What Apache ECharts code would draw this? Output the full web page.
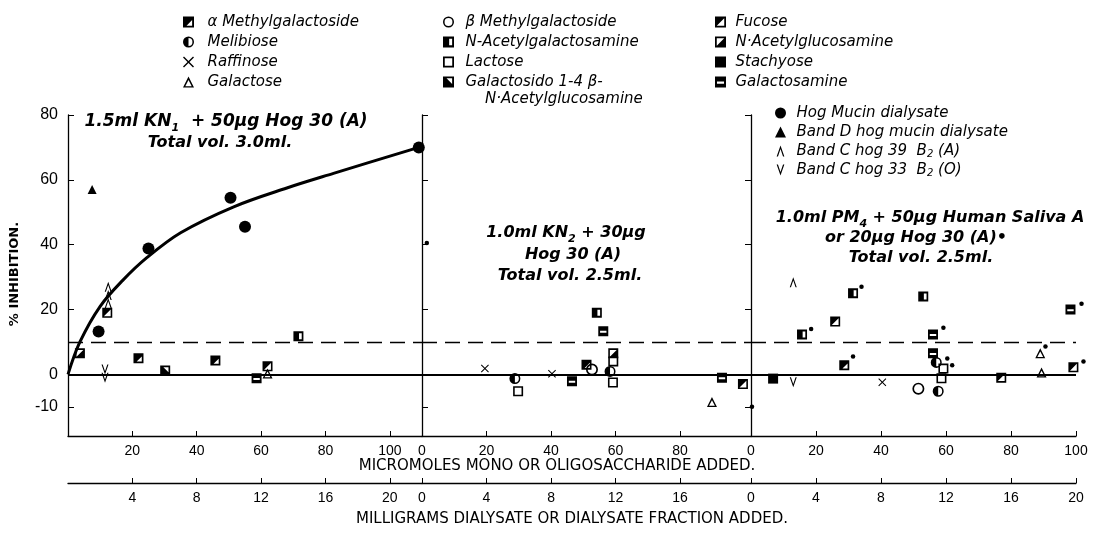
<!DOCTYPE html>
<html><head><meta charset="utf-8">
<script src="https://cdn.jsdelivr.net/npm/echarts@6/dist/echarts.min.js"></script>
<style>html,body{margin:0;padding:0;background:#fff}#c{width:1110px;height:534px}</style>
</head><body><div id="c"></div>
<script>
// ---------------- data ----------------
// compound points: [panel, micromoles added, % inhibition]
const alphaMethylgalactoside = [[1,21.9,5],[1,45.8,4.3],[2,51,3],[3,28.7,2.8]];
const melibiose = [[2,28.8,-1.3],[2,58.3,0.9],[3,57,3.7],[3,57.6,-5.2]];
const raffinose = [[2,19.5,1.8],[2,40.3,0.2],[3,40.4,-2.4]];
const galactose = [[1,62,0.3],[2,89.9,-8.5],[3,89,6.5],[3,89.4,0.6]];
const betaMethylgalactoside = [[2,52.7,1.5],[3,51.5,-4.4]];
const nAcetylgalactosamine = [[1,71.6,11.8],[2,54.2,19],[3,15.7,12.3],[3,31.4,25],[3,53,24]];
const lactose = [[2,29.8,-5.2],[2,59.3,4],[2,59.2,-2.5],[3,59.2,1.8],[3,58.6,-1.2]];
const galactosidoAcGlc = [[1,30.2,1.2]];
const fucose = [[1,12.2,19],[1,62,2.5],[2,99.5,-3],[3,25.9,16.3],[3,77,-1],[3,99.2,2.2]];
const nAcetylglucosamine = [[1,3.7,6.5],[2,59.3,6.5]];
const stachyose = [[3,6.8,-1.3]];
const galactosamine = [[1,58.6,-1.2],[2,46.5,-2.1],[2,56.2,13.3],[2,93,-1],[3,56,12.3],[3,56,6.5],[3,98.3,20]];
// points tested with Hog 30 (A) (small dots): [panel, micromoles, % inhibition]
const hog30Dots = [[2,1.5,40.5],[3,0.3,-10],[3,18.5,14],[3,34,27],[3,31.4,5.5],[3,59.2,14.4],[3,60.4,4.9],[3,61.9,2.8],[3,90.6,8.6],[3,101.7,21.8],[3,102.3,4]];
// dialysate points: [panel, milligrams added, % inhibition]
const hogMucinDialysate = [[1,1.9,13.2],[1,5,38.8],[1,10.1,54.5],[1,11,45.5],[1,21.8,70]];
const bandDHogMucin = [[1,1.5,57]];
const bandCHog39 = [[1,2.5,27],[1,2.5,24.5],[1,2.5,22],[3,2.6,28.4]];
const bandCHog33 = [[1,2.3,1.5],[1,2.3,-1],[3,2.6,-2.4]];
// fitted curve for hog mucin dialysate: [milligrams, % inhibition]
const hogMucinCurve = [[0,0],[0.74,10],[2,21],[3.4,29],[4.9,36],[7,43.7],[10.3,51.7],[13.6,57.5],[16.5,62],[21.8,70]];
const zeroLevel = 0, cutoffLevel = 10;
const yTicks = [-10,0,20,40,60,80];
const microTicks = [[20,40,60,80,100],[0,20,40,60,80],[0,20,40,60,80,100]];
const mgTicks = [[4,8,12,16,20],[0,4,8,12,16],[0,4,8,12,16,20]];
const microMax = [110,102,100];
const mgMax = [22,20.4,20];

// ---------------- symbols ----------------
const SQ = 'M0 0H10V10H0Z ';
const HOLE = 'M1.6 1.6V8.4H8.4V1.6Z ';
const CIRC = 'M0 5A5 5 0 1 1 10 5A5 5 0 1 1 0 5Z M1.4 5A3.6 3.6 0 1 0 8.6 5A3.6 3.6 0 1 0 1.4 5Z ';
const P = {
  sqOpen: 'path://' + SQ + HOLE,
  sqFilled: 'path://' + SQ,
  aMG: 'path://' + SQ + 'M8.3 3.2L3.2 8.3H8.3Z',
  galactosido: 'path://' + SQ + 'M3.2 1.7L8.3 6.8V1.7Z',
  fucose: 'path://' + SQ + HOLE + 'M1.6 1.6H8.4L1.6 8.4Z',
  nAcGlc: 'path://' + SQ + HOLE + 'M8.4 1.6V8.4H1.6Z',
  nAcGal: 'path://' + SQ + 'M5.6 2V8H8.3V2Z',
  galactosamine: 'path://' + SQ + 'M1.8 4.6V6.6H8.2V4.6Z',
  circleOpen: 'path://' + CIRC,
  melibiose: 'path://' + CIRC + 'M5 1.4A3.6 3.6 0 0 0 5 8.6Z',
  triOpen: 'path://M5 0L10 10H0Z M5 3.2L2.1 8.8H7.9Z',
  triFilled: 'path://M5 0L10 10H0Z',
  cross: 'path://M0 0.9L0.9 0L5 4.1L9.1 0L10 0.9L5.9 5L10 9.1L9.1 10L5 5.9L0.9 10L0 9.1L4.1 5Z',
  caretUp: 'path://M0 10L3.5 0L7 10H5.8L3.5 3.2L1.2 10Z',
  caretDown: 'path://M0 0L3.5 10L7 0H5.8L3.5 6.8L1.2 0Z'
};

const groups = [
  {name:'α Methylgalactoside', pts:alphaMethylgalactoside, sym:P.aMG, size:10, mg:false},
  {name:'Melibiose', pts:melibiose, sym:P.melibiose, size:11, mg:false},
  {name:'Raffinose', pts:raffinose, sym:P.cross, size:8, mg:false},
  {name:'Galactose', pts:galactose, sym:P.triOpen, size:10, mg:false},
  {name:'β Methylgalactoside', pts:betaMethylgalactoside, sym:P.circleOpen, size:12, mg:false},
  {name:'N-Acetylgalactosamine', pts:nAcetylgalactosamine, sym:P.nAcGal, size:10, mg:false},
  {name:'Lactose', pts:lactose, sym:P.sqOpen, size:10, mg:false},
  {name:'Galactosido 1-4 β-N-Acetylglucosamine', pts:galactosidoAcGlc, sym:P.galactosido, size:10, mg:false},
  {name:'Fucose', pts:fucose, sym:P.fucose, size:10, mg:false},
  {name:'N·Acetylglucosamine', pts:nAcetylglucosamine, sym:P.nAcGlc, size:10, mg:false},
  {name:'Stachyose', pts:stachyose, sym:P.sqFilled, size:10, mg:false},
  {name:'Galactosamine', pts:galactosamine, sym:P.galactosamine, size:10, mg:false},
  {name:'Hog Mucin dialysate', pts:hogMucinDialysate, sym:'circle', size:12, mg:true},
  {name:'Band D hog mucin dialysate', pts:bandDHogMucin, sym:P.triFilled, size:9, mg:true},
  {name:'Band C hog 39 B2 (A)', pts:bandCHog39, sym:P.caretUp, size:10, mg:true},
  {name:'Band C hog 33 B2 (O)', pts:bandCHog33, sym:P.caretDown, size:10, mg:true},
  {name:'Hog 30 (A) •', pts:hog30Dots, sym:'circle', size:4.5, mg:false}
];

const grids = [
  {left:68, top:115, width:354, height:321},
  {left:422, top:115, width:329, height:321},
  {left:751, top:115, width:325, height:321}
];

const BLACK = '#000';
const numFont = {color:BLACK, fontSize:14, fontFamily:'Liberation Sans'};
const xAxes = [];
[0,1,2].forEach(i => xAxes.push({
  type:'value', gridIndex:i, min:0, max:microMax[i], position:'bottom',
  axisLine:{show:true, onZero:false, lineStyle:{color:BLACK, width:1.3}},
  axisTick:{show:true, inside:true, length:5, customValues:microTicks[i], lineStyle:{color:BLACK}},
  axisLabel:Object.assign({customValues:microTicks[i], margin:8}, numFont),
  splitLine:{show:false}
}));
[0,1,2].forEach(i => xAxes.push({
  type:'value', gridIndex:i, min:0, max:mgMax[i], position:'bottom', offset:47,
  axisLine:{show:true, onZero:false, lineStyle:{color:BLACK, width:1.3}},
  axisTick:{show:true, inside:true, length:5, customValues:mgTicks[i], lineStyle:{color:BLACK}},
  axisLabel:Object.assign({customValues:mgTicks[i], margin:8}, numFont),
  splitLine:{show:false}
}));
const yAxes = [0,1,2].map(i => ({
  type:'value', gridIndex:i, min:-19, max:80,
  axisLine:{show:true, onZero:false, lineStyle:{color:BLACK, width:1.3}},
  axisTick:{show:true, inside:i<2, length:6, customValues:yTicks, lineStyle:{color:BLACK}},
  axisLabel:{show:i===0, customValues:yTicks, color:BLACK, fontSize:16, fontFamily:'Liberation Sans', margin:10},
  splitLine:{show:false}
}));

const series = [];
groups.forEach(g => {
  [1,2,3].forEach(p => {
    const d = g.pts.filter(v => v[0] === p).map(v => [v[1], v[2]]);
    if (!d.length) return;
    series.push({
      type:'scatter', name:g.name, xAxisIndex:g.mg ? 2 + p : p - 1, yAxisIndex:p - 1,
      data:d, symbol:g.sym, symbolSize:g.size, symbolKeepAspect:true, clip:false,
      itemStyle:{color:BLACK, opacity:1}, z:5
    });
  });
});
series.push({
  type:'line', name:'Hog mucin curve', xAxisIndex:3, yAxisIndex:0, data:hogMucinCurve,
  smooth:0.35, symbol:'none', lineStyle:{color:BLACK, width:3}, z:3
});
[0,1,2].forEach(i => series.push({
  type:'line', name:'ref' + i, xAxisIndex:i, yAxisIndex:i, data:[],
  markLine:{silent:true, symbol:'none', label:{show:false},
    data:[
      {yAxis:zeroLevel, lineStyle:{color:BLACK, width:1.8, type:'solid'}},
      {yAxis:cutoffLevel, lineStyle:{color:BLACK, width:1.4, type:[15,8]}}
    ]}
}));

const legendText = {fontSize:15, fontStyle:'italic', fontFamily:'DejaVu Sans', color:BLACK, lineHeight:16,
  rich:{s:{fontSize:10, fontStyle:'italic', fontFamily:'DejaVu Sans', color:BLACK, verticalAlign:'bottom', lineHeight:16}}};
function mkLegend(left, top, names, w, gap) {
  return {left:left, top:top, orient:'vertical', itemWidth:w, itemHeight:11, itemGap:gap,
    selectedMode:false, data:names, textStyle:legendText,
    formatter:function(n){
      if (n.indexOf('Galactosido') === 0) return 'Galactosido 1-4 β-';
      if (n.indexOf('Band C') === 0) return n.replace(' B2', '  B{s|2}');
      return n;
    }};
}

const bi = {fontFamily:'DejaVu Sans', fontStyle:'italic', fontWeight:'bold', fontSize:16, fill:BLACK, lineHeight:22,
  rich:{s:{fontFamily:'DejaVu Sans', fontStyle:'italic', fontWeight:'bold', fontSize:11, fill:BLACK, verticalAlign:'bottom', lineHeight:24}}};
function txt(x, y, t, extra) {
  return {type:'text', x:x, y:y, silent:true,
    style:Object.assign({text:t, textAlign:'center', textVerticalAlign:'middle'}, bi, extra || {})};
}
const plain = {fontFamily:'DejaVu Sans', fontStyle:'normal', fontWeight:'normal', fontSize:15, fill:BLACK};

const option = {
  backgroundColor:'#fff',
  animation:false,
  grid:grids,
  xAxis:xAxes,
  yAxis:yAxes,
  legend:[
    mkLegend(178, 9, ['α Methylgalactoside','Melibiose','Raffinose','Galactose'], 28, 4),
    mkLegend(438, 9, ['β Methylgalactoside','N-Acetylgalactosamine','Lactose','Galactosido 1-4 β-N-Acetylglucosamine'], 24, 4),
    mkLegend(710, 9, ['Fucose','N·Acetylglucosamine','Stachyose','Galactosamine'], 20, 4),
    mkLegend(770, 100, ['Hog Mucin dialysate','Band D hog mucin dialysate','Band C hog 39 B2 (A)','Band C hog 33 B2 (O)'], 22, 3)
  ],
  series:series,
  graphic:[
    {type:'text', x:485, y:99, silent:true, style:{text:'N·Acetylglucosamine', textAlign:'left', textVerticalAlign:'middle',
      fontSize:15, fontStyle:'italic', fontFamily:'DejaVu Sans', fill:BLACK}},
    txt(226, 122, '1.5ml KN{s|1}  + 50μg Hog 30 (A)', {fontSize:17}),
    txt(220, 143, 'Total vol. 3.0ml.'),
    txt(566, 233, '1.0ml KN{s|2} + 30μg'),
    txt(573, 255, 'Hog 30 (A)'),
    txt(570, 276, 'Total vol. 2.5ml.'),
    txt(930, 218, '1.0ml PM{s|4} + 50μg Human Saliva A'),
    txt(916, 238, 'or 20μg Hog 30 (A)•'),
    txt(921, 258, 'Total vol. 2.5ml.'),
    {type:'text', x:15, y:274, rotation:Math.PI/2, silent:true,
      style:Object.assign({text:'% INHIBITION.', textAlign:'center', textVerticalAlign:'middle'}, plain, {fontWeight:'bold', fontSize:13})},
    {type:'text', x:557, y:466, silent:true,
      style:Object.assign({text:'MICROMOLES MONO OR OLIGOSACCHARIDE ADDED.', textAlign:'center', textVerticalAlign:'middle'}, plain)},
    {type:'text', x:572, y:519, silent:true,
      style:Object.assign({text:'MILLIGRAMS DIALYSATE OR DIALYSATE FRACTION ADDED.', textAlign:'center', textVerticalAlign:'middle'}, plain)}
  ]
};
const chart = echarts.init(document.getElementById('c'), null, {renderer:'canvas'});
chart.setOption(option);
</script></body></html>
